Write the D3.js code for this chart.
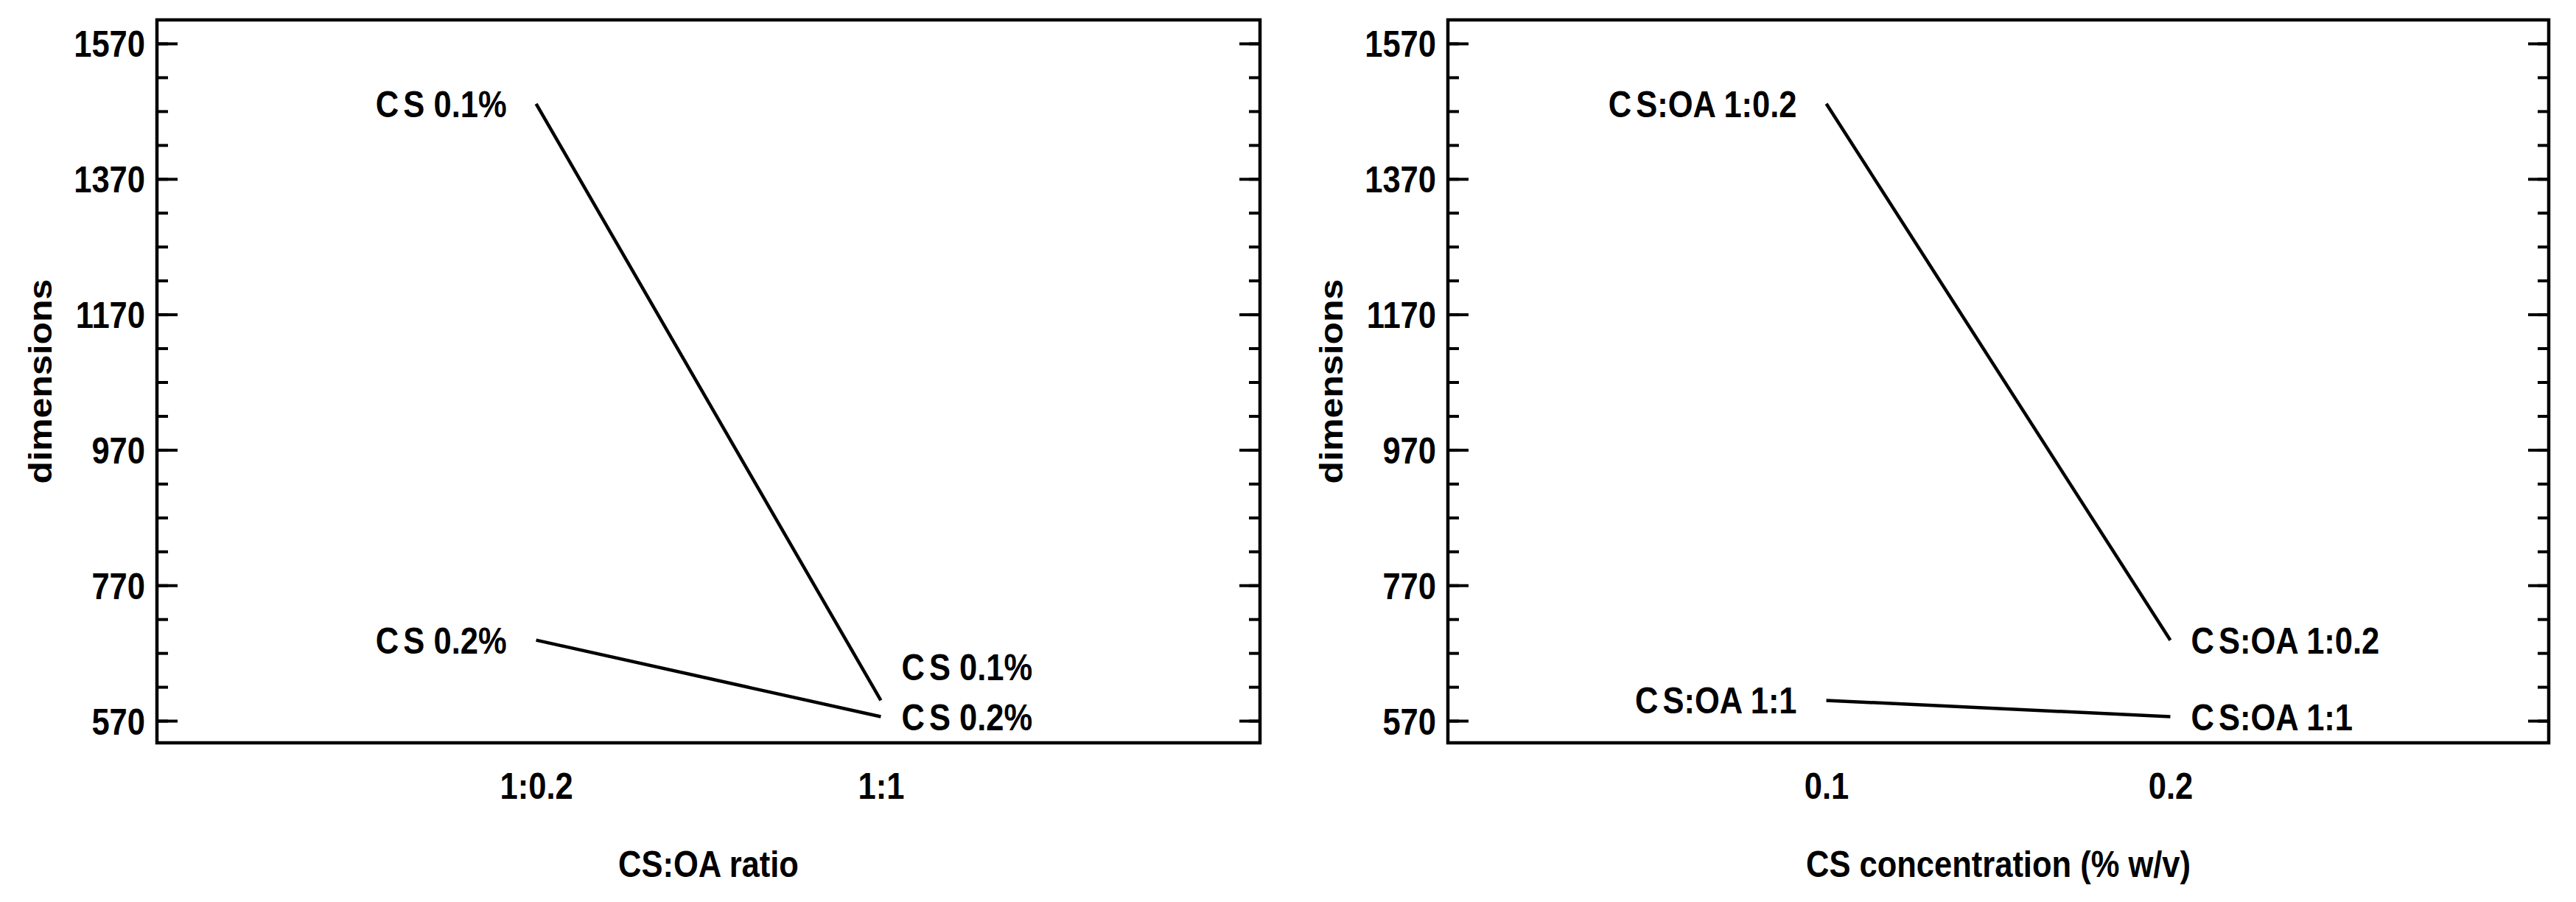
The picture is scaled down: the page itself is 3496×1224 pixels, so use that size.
<!DOCTYPE html>
<html>
<head>
<meta charset="utf-8">
<script src="https://cdn.jsdelivr.net/npm/d3@7"></script>
<style>
  body { margin: 0; background: #fff; }
  text { font-family: "Liberation Sans", Arial, sans-serif; font-weight: bold; fill: #000; }
</style>
</head>
<body>
<div id="graph"></div>
<script>
// interaction plot data (cell means)
var ratioCats = ["1:0.2", "1:1"];
var concCats = ["0.1", "0.2"];
var cs01 = [1481, 600];     // CS 0.1% across ratios
var cs02 = [689, 576];      // CS 0.2% across ratios
var oa02 = [1481, 689];     // CS:OA 1:0.2 across concentrations
var oa11 = [600, 576];      // CS:OA 1:1 across concentrations
var yTicks = [570, 770, 970, 1170, 1370, 1570];
var yMinor = d3.range(570, 1571, 50);

var width = 3496;
var height = 1224;
var sx = 0.87;   // the original figure is squeezed horizontally
var fs = 50;
var plotTop = 27, plotBottom = 1008;

var svg = d3.select('#graph')
    .append('svg')
    .attr('width', width)
    .attr('height', height);

var y = d3.scaleLinear().domain([537.4, 1604.8]).range([plotBottom, plotTop]);

var panels = [
    { left: 213, right: 1710, cats: ratioCats, xTitle: "CS:OA ratio",
      series: [{ name: "CS 0.1%", values: cs01 }, { name: "CS 0.2%", values: cs02 }] },
    { left: 1965, right: 3459, cats: concCats, xTitle: "CS concentration (% w/v)",
      series: [{ name: "CS:OA 1:0.2", values: oa02 }, { name: "CS:OA 1:1", values: oa11 }] }
];

function label(g, x, yy, txt, anchor) {
    var t = g.append('text')
        .attr('transform', 'translate(' + x + ',' + yy + ') scale(' + sx + ',1)')
        .attr('text-anchor', anchor)
        .attr('dy', '0.36em')
        .style('font-size', fs + 'px');
    // the source renders a small gap between C and S
    t.append('tspan').text(txt.slice(0, 1));
    t.append('tspan').attr('dx', 7).text(txt.slice(1));
    return t;
}

panels.forEach(function(p) {
    var g = svg.append('g');
    var x = d3.scalePoint().domain(p.cats).range([p.left, p.right]).padding(1.1);

    // ticks, both sides pointing inward
    var minorL = g.append('g').attr('transform', 'translate(' + p.left + ',0)')
        .call(d3.axisLeft(y).tickValues(yMinor).tickSize(-15).tickFormat(''));
    var minorR = g.append('g').attr('transform', 'translate(' + p.right + ',0)')
        .call(d3.axisRight(y).tickValues(yMinor).tickSize(-15).tickFormat(''));
    var majorR = g.append('g').attr('transform', 'translate(' + p.right + ',0)')
        .call(d3.axisRight(y).tickValues(yTicks).tickSize(-28).tickFormat(''));
    var majorL = g.append('g').attr('transform', 'translate(' + p.left + ',0)')
        .call(d3.axisLeft(y).tickValues(yTicks).tickSize(-28).tickPadding(16).tickFormat(d3.format('d')));

    [minorL, minorR, majorR, majorL].forEach(function(a) {
        a.select('.domain').remove();
        a.selectAll('line').attr('stroke', '#000').attr('stroke-width', 4);
    });
    majorL.selectAll('text')
        .attr('x', -16 / sx)
        .attr('dy', '0.36em')
        .attr('transform', 'scale(' + sx + ',1)')
        .style('font-size', fs + 'px')
        .attr('font-family', null);

    var xAxis = g.append('g').attr('transform', 'translate(0,' + plotBottom + ')')
        .call(d3.axisBottom(x).tickSize(0).tickPadding(41));
    xAxis.select('.domain').remove();
    xAxis.selectAll('text')
        .attr('transform', 'scale(' + sx + ',1)')
        .style('font-size', fs + 'px')
        .attr('font-family', null);

    // frame
    g.append('rect')
        .attr('x', p.left).attr('y', plotTop)
        .attr('width', p.right - p.left).attr('height', plotBottom - plotTop)
        .attr('fill', 'none').attr('stroke', '#000').attr('stroke-width', 4.5);

    var line = d3.line()
        .x(function(d, i) { return x(p.cats[i]); })
        .y(function(d) { return y(d); });

    g.selectAll('path.series')
        .data(p.series)
        .enter()
        .append('path')
        .attr('class', 'series')
        .attr('d', function(s) { return line(s.values); })
        .attr('fill', 'none')
        .attr('stroke', '#000')
        .attr('stroke-width', 4.5);

    var x0 = x(p.cats[0]), x1 = x(p.cats[p.cats.length - 1]);

    // labels at the start of each line
    p.series.forEach(function(s) {
        label(g, x0 - 40, y(s.values[0]), s.name, 'end');
    });

    // labels at the end, pushed apart if they would collide
    var ends = p.series.map(function(s) {
        return { name: s.name, py: y(s.values[s.values.length - 1]) };
    }).sort(function(a, b) { return b.py - a.py; });
    for (var i = 1; i < ends.length; i++) {
        if (ends[i - 1].py - ends[i].py < 60) ends[i].py = ends[i - 1].py - 68;
    }
    ends.forEach(function(e) {
        label(g, x1 + 28, e.py, e.name, 'start');
    });

    // axis titles
    g.append('text')
        .attr('transform', 'translate(' + (p.left - 159) + ',' + ((plotTop + plotBottom) / 2) + ') scale(' + sx + ',1) rotate(-90)')
        .attr('text-anchor', 'middle')
        .attr('dy', '0.36em')
        .style('font-size', fs + 'px')
        .text('dimensions');

    g.append('text')
        .attr('transform', 'translate(' + ((p.left + p.right) / 2) + ',1172) scale(' + sx + ',1)')
        .attr('text-anchor', 'middle')
        .attr('dy', '0.36em')
        .style('font-size', fs + 'px')
        .text(p.xTitle);
});
</script>
</body>
</html>
